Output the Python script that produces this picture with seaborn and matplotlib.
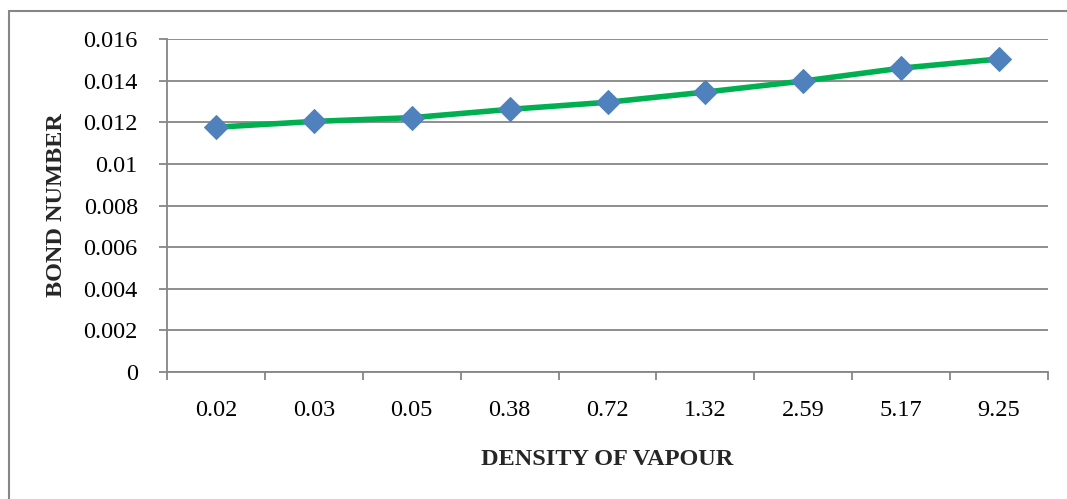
import matplotlib
matplotlib.use("Agg")
import matplotlib.pyplot as plt
import seaborn as sns
import pandas as pd
from matplotlib.patches import Rectangle
from matplotlib.ticker import FixedLocator

density = ["0.02", "0.03", "0.05", "0.38", "0.72", "1.32", "2.59", "5.17", "9.25"]
bond_number = [0.01176, 0.01204, 0.01222, 0.01262, 0.01296, 0.01345, 0.01398, 0.01460, 0.01504]
y_ticks = [0, 0.002, 0.004, 0.006, 0.008, 0.01, 0.012, 0.014, 0.016]
y_tick_labels = ["0", "0.002", "0.004", "0.006", "0.008", "0.01", "0.012", "0.014", "0.016"]

df = pd.DataFrame({"density": density, "bond": bond_number})

sns.set_theme(style="white")
plt.rcParams["font.family"] = ["Liberation Serif", "DejaVu Serif"]

W, H = 1067, 499
fig = plt.figure(figsize=(W / 100, H / 100), dpi=100)
fig.patch.set_facecolor("white")
ax = fig.add_axes([167 / W, 1 - 372 / H, (1048 - 167) / W, (372 - 39) / H])

grey = "#868686"

sns.lineplot(data=df, x="density", y="bond", ax=ax, color="#00B050", linewidth=4,
             marker="D", markersize=12, markerfacecolor="#4F81BD", markeredgecolor="#4F81BD",
             sort=False, zorder=3)

ax.set_xlim(-0.5, len(density) - 0.5)
ax.set_ylim(0, 0.016)
ax.set_yticks(y_ticks)
ax.set_yticklabels(y_tick_labels)
ax.yaxis.grid(True, color=grey, linewidth=1.3)
ax.xaxis.grid(False)
ax.set_axisbelow(True)

ax.set_xticks(range(len(density)))
ax.set_xticklabels(density)
ax.xaxis.set_minor_locator(FixedLocator([i - 0.5 for i in range(len(density) + 1)]))
ax.tick_params(axis="x", which="major", length=0, pad=20, labelsize=17.5, colors="black")
ax.tick_params(axis="x", which="minor", length=6, width=1.3, color=grey, direction="out", bottom=True)
ax.tick_params(axis="y", which="major", length=6, width=1.3, color=grey, direction="out", left=True,
               pad=15, labelsize=17.5, labelcolor="black")

for s in ["top", "right"]:
    ax.spines[s].set_visible(False)
for s in ["left", "bottom"]:
    ax.spines[s].set_color(grey)
    ax.spines[s].set_linewidth(1.3)

ax.set_xlabel("DENSITY OF VAPOUR", fontsize=17.5, fontweight="bold", labelpad=20)
ax.set_ylabel("BOND NUMBER", fontsize=17.5, fontweight="bold", labelpad=12)

fig.patches.append(Rectangle((8.5 / W, -0.1), 1.2, 1 - 11 / H + 0.1, transform=fig.transFigure,
                             fill=False, edgecolor=grey, linewidth=1.5, zorder=0))

fig.savefig("out.png", dpi=100, facecolor="white")
